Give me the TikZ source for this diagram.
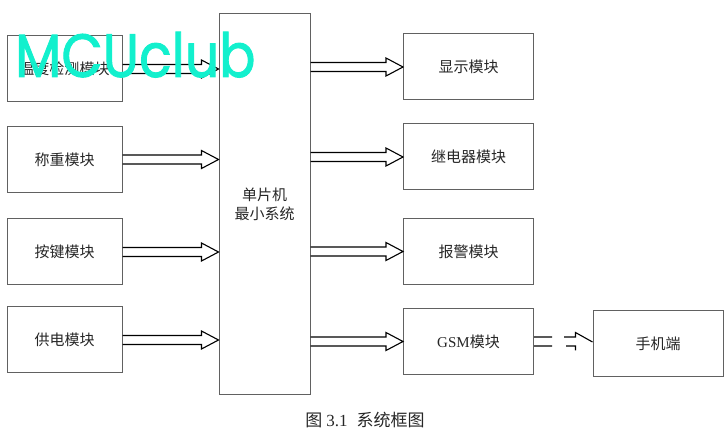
\documentclass[tikz,border=0pt]{standalone}
\usepackage{fontspec}
\setmainfont{Liberation Serif}
\newfontfamily\cjk{Noto Sans CJK SC}
\newfontfamily\wmfont{Poppins}[FakeBold=1.6]
\usetikzlibrary{calc}
\definecolor{wm}{RGB}{18,240,205}
\newcommand\fatarrow[2]{\draw[fat] let \p1=(#1), \p2=(#2) in
  (\x1,\y1+4.5pt) -- (\x2-17pt,\y1+4.5pt) -- (\x2-17pt,\y1+9pt) -- (\x2,\y1)
  -- (\x2-17pt,\y1-9pt) -- (\x2-17pt,\y1-4.5pt) -- (\x1,\y1-4.5pt);}
\begin{document}
\begin{tikzpicture}[x=1pt,y=-1pt,
  box/.style={draw=black!62, line width=1pt, inner sep=0pt,
    font=\cjk\fontsize{15}{19}\selectfont, text=black!85},
  fat/.style={draw=black, line width=1.1pt, line join=miter}]
\useasboundingbox (0,0) rectangle (728,443);
% left column
\node[box, minimum width=115pt, minimum height=66pt] (t1) at (64.5,69) {温度检测模块};
\node[box, minimum width=115pt, minimum height=66pt] (t2) at (64.5,159.5) {称重模块};
\node[box, minimum width=115pt, minimum height=66pt] (t3) at (64.5,252) {按键模块};
\node[box, minimum width=115pt, minimum height=66pt] (t4) at (64.5,340) {供电模块};
% centre
\node[box, minimum width=91pt, minimum height=380pt, align=center] (mcu) at (264.5,204) {单片机\\最小系统};
% right column
\node[box, minimum width=130pt, minimum height=66pt] (r1) at (468.5,67) {显示模块};
\node[box, minimum width=130pt, minimum height=66pt] (r2) at (468.5,157) {继电器模块};
\node[box, minimum width=130pt, minimum height=66pt] (r3) at (468.5,251.5) {报警模块};
\node[box, minimum width=130pt, minimum height=66pt] (gsm) at (468.5,341.5) {{\rmfamily GSM}模块};
\node[box, minimum width=130pt, minimum height=66pt] (phone) at (658,344) {手机端};
% arrows
\fatarrow{t1.east}{mcu.west |- t1.east}
\fatarrow{t2.east}{mcu.west |- t2.east}
\fatarrow{t3.east}{mcu.west |- t3.east}
\fatarrow{t4.east}{mcu.west |- t4.east}
\fatarrow{mcu.east |- r1.west}{r1.west}
\fatarrow{mcu.east |- r2.west}{r2.west}
\fatarrow{mcu.east |- r3.west}{r3.west}
\fatarrow{mcu.east |- gsm.west}{gsm.west}
% broken wireless arrow
\draw[fat] let \p1=(gsm.east), \p2=(phone.west |- gsm.east) in
  (\x1,\y1+4.5pt) -- (\x1+18pt,\y1+4.5pt)
  (\x1,\y1-4.5pt) -- (\x1+18pt,\y1-4.5pt)
  (\x1+30pt,\y1+4.5pt) -- (\x2-17pt,\y1+4.5pt) -- (\x2-17pt,\y1+9pt) -- (\x2,\y1-0.5pt)
  (\x1+32pt,\y1-4.5pt) -- (\x2-17pt,\y1-4.5pt) -- (\x2-17pt,\y1-9pt);
% caption
\node[font=\cjk\fontsize{17}{20}\selectfont, text=black!85] (cap) at (365,420) {图 {\rmfamily 3.1}\hspace{9pt}系统框图};
% watermark
\node[font=\wmfont\fontsize{61}{61}\selectfont, text=wm, anchor=base west, inner sep=0pt] (wmk) at (15,77) {\scalebox{0.88}[1]{MCUclub}};
\end{tikzpicture}
\end{document}
